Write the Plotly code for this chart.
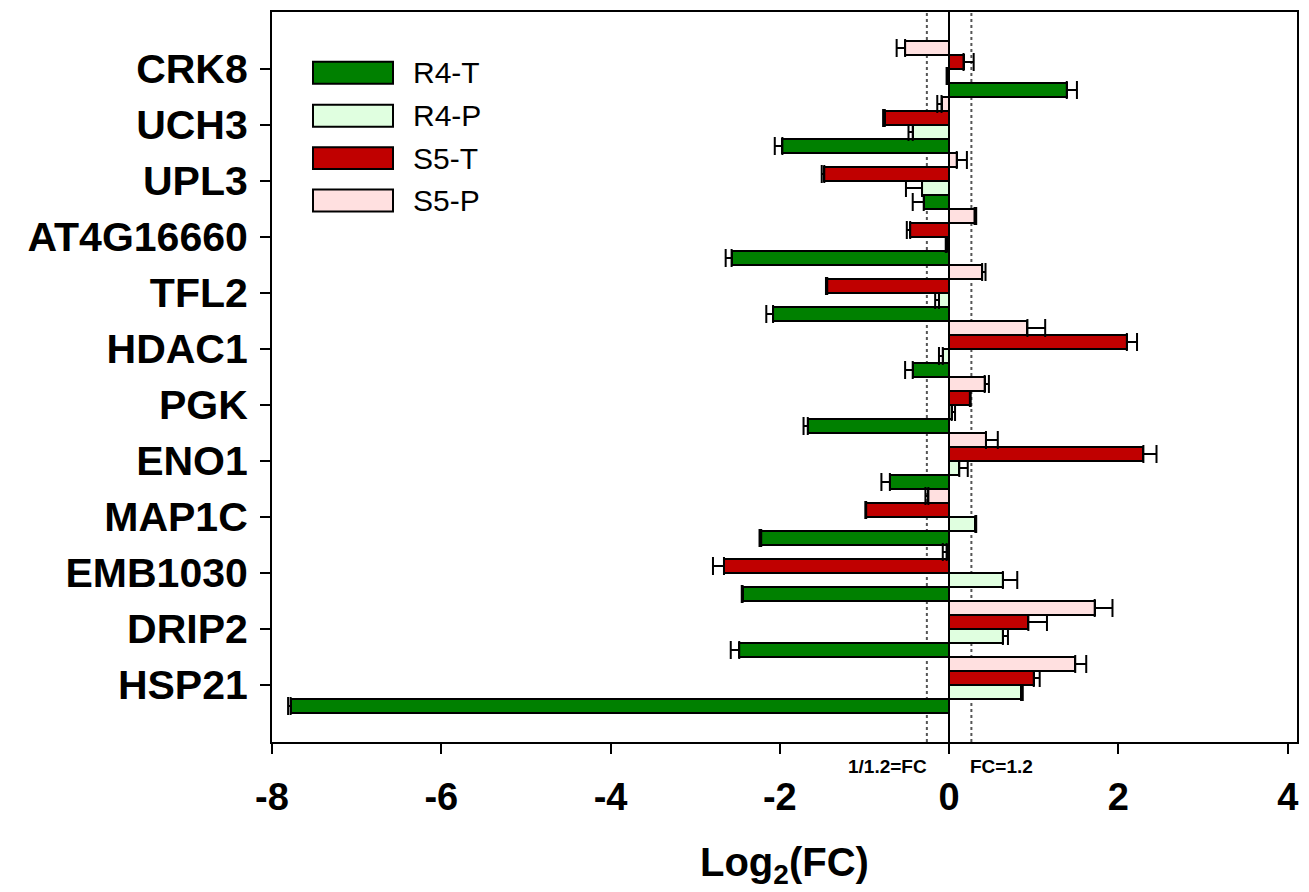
import math
import plotly.graph_objects as go

# ---------------- data (genes listed top-to-bottom as in the chart) ----------------
genes = ["CRK8", "UCH3", "UPL3", "AT4G16660", "TFL2", "HDAC1",
         "PGK", "ENO1", "MAP1C", "EMB1030", "DRIP2", "HSP21"]

series_names = ["R4-T", "R4-P", "S5-T", "S5-P"]

r4t = [1.39, -1.97, -0.30, -2.57, -2.08, -0.43, -1.67, -0.70, -2.22, -2.44, -2.48, -7.78]
r4t_err = [0.12, 0.09, 0.13, 0.07, 0.08, 0.09, 0.05, 0.10, 0.02, 0.01, 0.10, 0.03]

r4p = [-0.015, -0.43, -0.32, -0.03, -0.12, -0.075, 0.03, 0.12, 0.31, 0.635, 0.635, 0.85]
r4p_err = [0.015, 0.05, 0.19, 0.01, 0.045, 0.045, 0.04, 0.10, 0.01, 0.17, 0.06, 0.02]

s5t = [0.17, -0.76, -1.475, -0.46, -1.44, 2.10, 0.245, 2.295, -0.98, -2.66, 0.936, 1.0]
s5t_err = [0.12, 0.02, 0.03, 0.04, 0.015, 0.12, 0.01, 0.155, 0.01, 0.13, 0.22, 0.07]

s5p = [-0.52, -0.09, 0.09, 0.30, 0.39, 0.925, 0.42, 0.435, -0.245, -0.03, 1.72, 1.49]
s5p_err = [0.10, 0.05, 0.12, 0.02, 0.04, 0.21, 0.05, 0.14, 0.035, 0.045, 0.21, 0.13]

x_ticks = [-8, -6, -4, -2, 0, 2, 4]
fc_threshold = 1.2

colors = ["#008000", "#e0ffe0", "#c00000", "#ffe0e0"]

values = [r4t, r4p, s5t, s5p]
errors = [r4t_err, r4p_err, s5t_err, s5p_err]

FONT = "Liberation Sans"

fig = go.Figure()
for name, vals, errs, col in zip(series_names, values, errors, colors):
    plus = [e if v >= 0 else 0 for v, e in zip(vals, errs)]
    minus = [e if v < 0 else 0 for v, e in zip(vals, errs)]
    fig.add_trace(go.Bar(
        y=genes, x=vals, name=name, orientation="h",
        marker=dict(color=col, line=dict(color="black", width=2)),
        error_x=dict(type="data", symmetric=False, array=plus, arrayminus=minus,
                     color="black", thickness=2, width=9),
        showlegend=False,
    ))

lo = -math.log2(fc_threshold)
hi = math.log2(fc_threshold)
for xv in (lo, hi):
    fig.add_shape(type="line", xref="x", yref="paper", x0=xv, x1=xv, y0=0, y1=1,
                  line=dict(color="#555555", width=2, dash="dot"), layer="below")

# custom legend (wide rectangles like the original)
leg_y_px = [71, 114, 156.5, 199]
plot_top, plot_h = 10, 732
plot_left, plot_w = 272, 1025
for name, col, ypx in zip(series_names, colors, leg_y_px):
    yc = 1 - (ypx - plot_top) / plot_h
    hh = 11 / plot_h
    fig.add_shape(type="rect", xref="paper", yref="paper",
                  x0=(313 - plot_left) / plot_w, x1=(393 - plot_left) / plot_w,
                  y0=yc - hh, y1=yc + hh,
                  fillcolor=col, line=dict(color="black", width=2), layer="above")
    fig.add_annotation(xref="paper", yref="paper", x=(411 - plot_left) / plot_w, y=yc,
                       text=name, showarrow=False, xanchor="left", yanchor="middle",
                       font=dict(family=FONT, size=30, color="black"))

fig.add_annotation(xref="x", yref="paper", x=lo, y=-0.034, text="1/1.2=FC", showarrow=False,
                   xanchor="right", yanchor="middle", xshift=2,
                   font=dict(family=FONT, size=19, color="black", weight="bold"))
fig.add_annotation(xref="x", yref="paper", x=hi, y=-0.034, text="FC=1.2", showarrow=False,
                   xanchor="left", yanchor="middle", xshift=-3,
                   font=dict(family=FONT, size=19, color="black", weight="bold"))
fig.add_annotation(xref="paper", yref="paper", x=0.5, y=-0.168,
                   text="Log<sub>2</sub>(FC)", showarrow=False,
                   xanchor="center", yanchor="middle",
                   font=dict(family=FONT, size=40, color="black", weight="bold"))

fig.update_layout(
    width=1309, height=892,
    margin=dict(l=272, r=12, t=10, b=150),
    paper_bgcolor="white", plot_bgcolor="white",
    barmode="group", bargap=0, bargroupgap=0,
    showlegend=False,
)
fig.update_xaxes(
    range=[-8, 4.11], tickmode="array", tickvals=x_ticks,
    ticktext=[str(t) for t in x_ticks],
    showgrid=False, zeroline=True, zerolinecolor="black", zerolinewidth=2,
    showline=True, linecolor="black", linewidth=2, mirror=True,
    ticks="outside", ticklen=10, tickwidth=2, tickcolor="black",
    tickfont=dict(family=FONT, size=38, color="black", weight="bold"),
    ticklabelstandoff=10,
)
fig.update_yaxes(
    categoryorder="array", categoryarray=list(reversed(genes)),
    range=[-1.02, 12.02],
    showgrid=False, showline=True, linecolor="black", linewidth=2, mirror=True,
    ticks="outside", ticklen=10, tickwidth=2, tickcolor="black",
    tickfont=dict(family=FONT, size=41, color="black", weight="bold"),
    ticklabelstandoff=4,
)

fig.write_html("out.html")
